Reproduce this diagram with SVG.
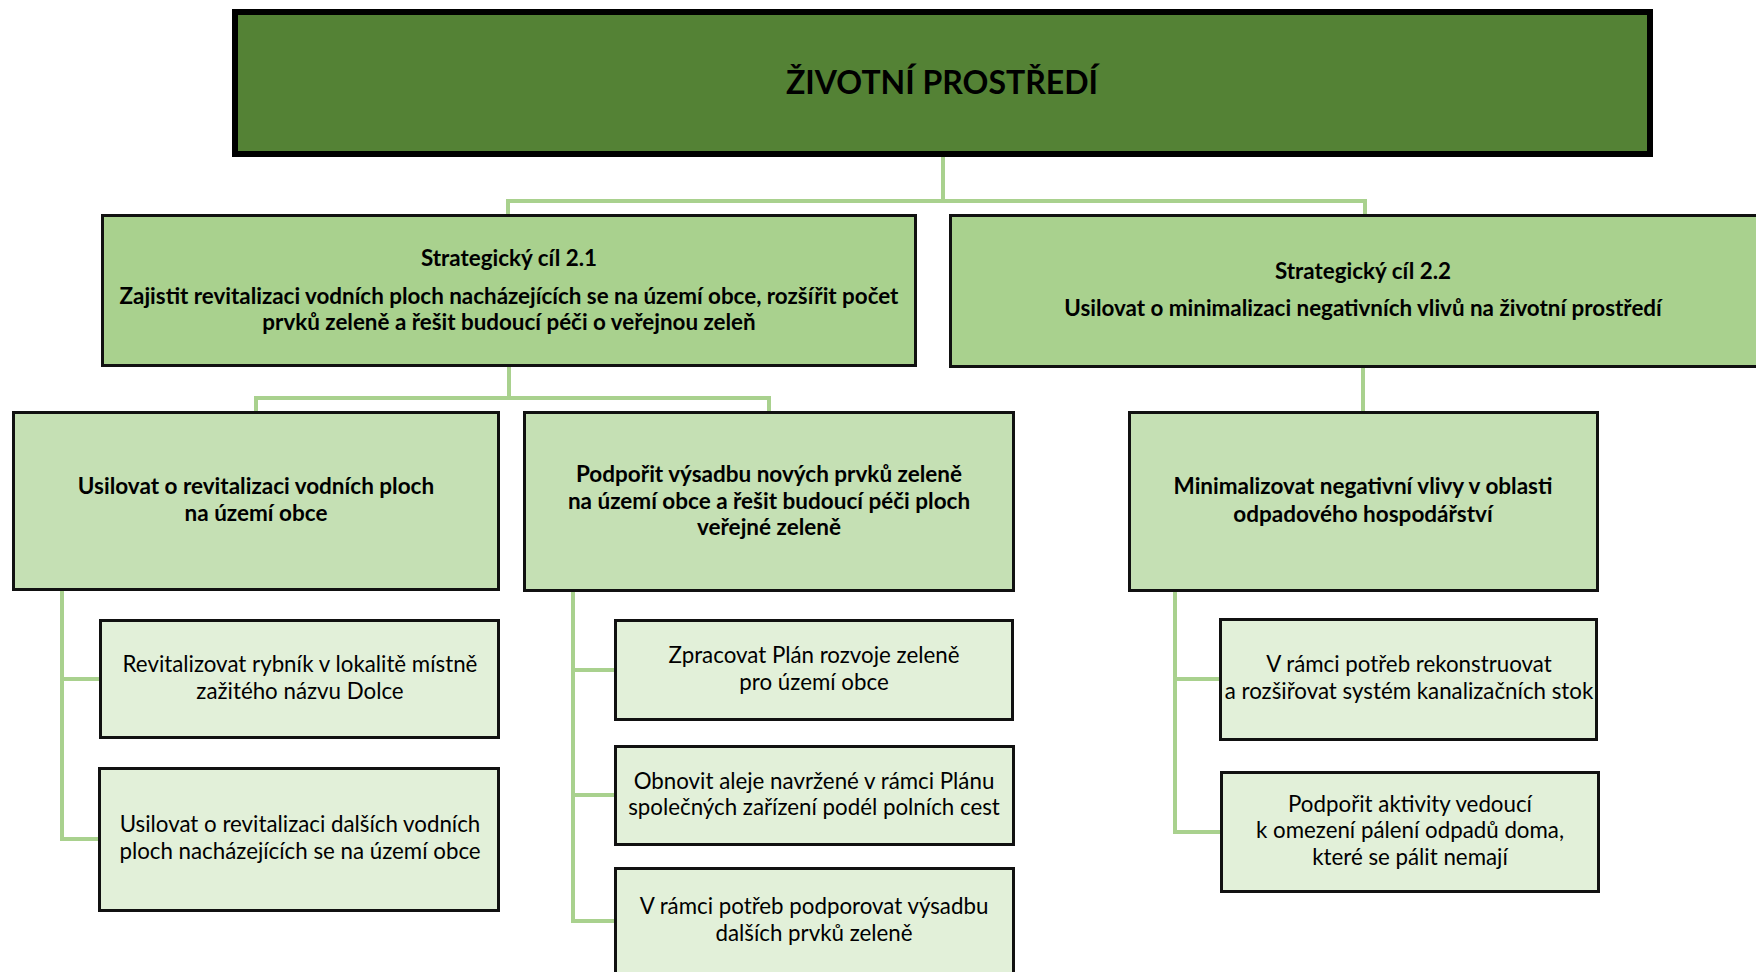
<svg xmlns="http://www.w3.org/2000/svg" width="1756" height="972" viewBox="0 0 1756 972">
<style>
.t{font-family:Lato,"Liberation Sans",sans-serif;fill:#000;text-anchor:middle}
.b{font-weight:bold}
.title{font-size:32px;font-weight:bold}
.l1{font-size:22.4px}
.l2{font-size:22.5px}
.l3{font-size:22.3px}
.bx{stroke:#111;stroke-width:3}
.c{fill:none;stroke:#A9D18E;stroke-width:4}
</style>
<rect width="1756" height="972" fill="#fff"/>
<g id="connectors">
<path class="c" d="M943 157 V201 M508 214 V201 H1365 V214"/>
<path class="c" d="M509 367 V398 M256 411 V398 H769 V411"/>
<path class="c" d="M1363 368 V411"/>
<path class="c" d="M62 591 V839 H98 M62 679 H99"/>
<path class="c" d="M573 592 V921 H614 M573 670 H614 M573 795 H614"/>
<path class="c" d="M1175 592 V832 H1220 M1175 679 H1219"/>
</g>
<g id="root">
<rect x="235" y="12" width="1415" height="142" fill="#548235" stroke="#000" stroke-width="6"/>
<text class="t title" x="942" y="94">ŽIVOTNÍ PROSTŘEDÍ</text>
</g>
<g id="sc21">
<rect class="bx" x="102.5" y="215.5" width="813" height="150" fill="#A9D18E"/>
<text class="t b l1" x="509" y="266">Strategický cíl 2.1</text>
<text class="t b l1" x="509" y="304">Zajistit revitalizaci vodních ploch nacházejících se na území obce, rozšířit počet</text>
<text class="t b l1" x="509" y="330">prvků zeleně a řešit budoucí péči o veřejnou zeleň</text>
</g>
<g id="sc22">
<rect class="bx" x="950.5" y="215.5" width="840" height="151" fill="#A9D18E"/>
<text class="t b l1" x="1363" y="279">Strategický cíl 2.2</text>
<text class="t b l1" x="1363" y="316">Usilovat o minimalizaci negativních vlivů na životní prostředí</text>
</g>
<g id="opA">
<rect class="bx" x="13.5" y="412.5" width="485" height="177" fill="#C5E0B4"/>
<text class="t b l2" x="256" y="494">Usilovat o revitalizaci vodních ploch</text>
<text class="t b l2" x="256" y="521">na území obce</text>
</g>
<g id="opB">
<rect class="bx" x="524.5" y="412.5" width="489" height="178" fill="#C5E0B4"/>
<text class="t b l2" x="769" y="482">Podpořit výsadbu nových prvků zeleně</text>
<text class="t b l2" x="769" y="509">na území obce a řešit budoucí péči ploch</text>
<text class="t b l2" x="769" y="535">veřejné zeleně</text>
</g>
<g id="opC">
<rect class="bx" x="1129.5" y="412.5" width="468" height="178" fill="#C5E0B4"/>
<text class="t b l2" x="1363" y="494">Minimalizovat negativní vlivy v oblasti</text>
<text class="t b l2" x="1363" y="522">odpadového hospodářství</text>
</g>
<g id="a1">
<rect class="bx" x="100.5" y="620.5" width="398" height="117" fill="#E2F0D9"/>
<text class="t l3" x="300" y="672">Revitalizovat rybník v lokalitě místně</text>
<text class="t l3" x="300" y="699">zažitého názvu Dolce</text>
</g>
<g id="a2">
<rect class="bx" x="99.5" y="768.5" width="399" height="142" fill="#E2F0D9"/>
<text class="t l3" x="300" y="832">Usilovat o revitalizaci dalších vodních</text>
<text class="t l3" x="300" y="859">ploch nacházejících se na území obce</text>
</g>
<g id="b1">
<rect class="bx" x="615.5" y="620.5" width="397" height="99" fill="#E2F0D9"/>
<text class="t l3" x="814" y="663">Zpracovat Plán rozvoje zeleně</text>
<text class="t l3" x="814" y="690">pro území obce</text>
</g>
<g id="b2">
<rect class="bx" x="615.5" y="746.5" width="398" height="98" fill="#E2F0D9"/>
<text class="t l3" x="814" y="789">Obnovit aleje navržené v rámci Plánu</text>
<text class="t l3" x="814" y="815">společných zařízení podél polních cest</text>
</g>
<g id="b3">
<rect class="bx" x="615.5" y="868.5" width="398" height="120" fill="#E2F0D9"/>
<text class="t l3" x="814" y="914">V rámci potřeb podporovat výsadbu</text>
<text class="t l3" x="814" y="941">dalších prvků zeleně</text>
</g>
<g id="c1">
<rect class="bx" x="1220.5" y="619.5" width="376" height="120" fill="#E2F0D9"/>
<text class="t l3" x="1409" y="672">V rámci potřeb rekonstruovat</text>
<text class="t l3" x="1409" y="699">a rozšiřovat systém kanalizačních stok</text>
</g>
<g id="c2">
<rect class="bx" x="1221.5" y="772.5" width="377" height="119" fill="#E2F0D9"/>
<text class="t l3" x="1410" y="812">Podpořit aktivity vedoucí</text>
<text class="t l3" x="1410" y="838">k omezení pálení odpadů doma,</text>
<text class="t l3" x="1410" y="865">které se pálit nemají</text>
</g>
</svg>
